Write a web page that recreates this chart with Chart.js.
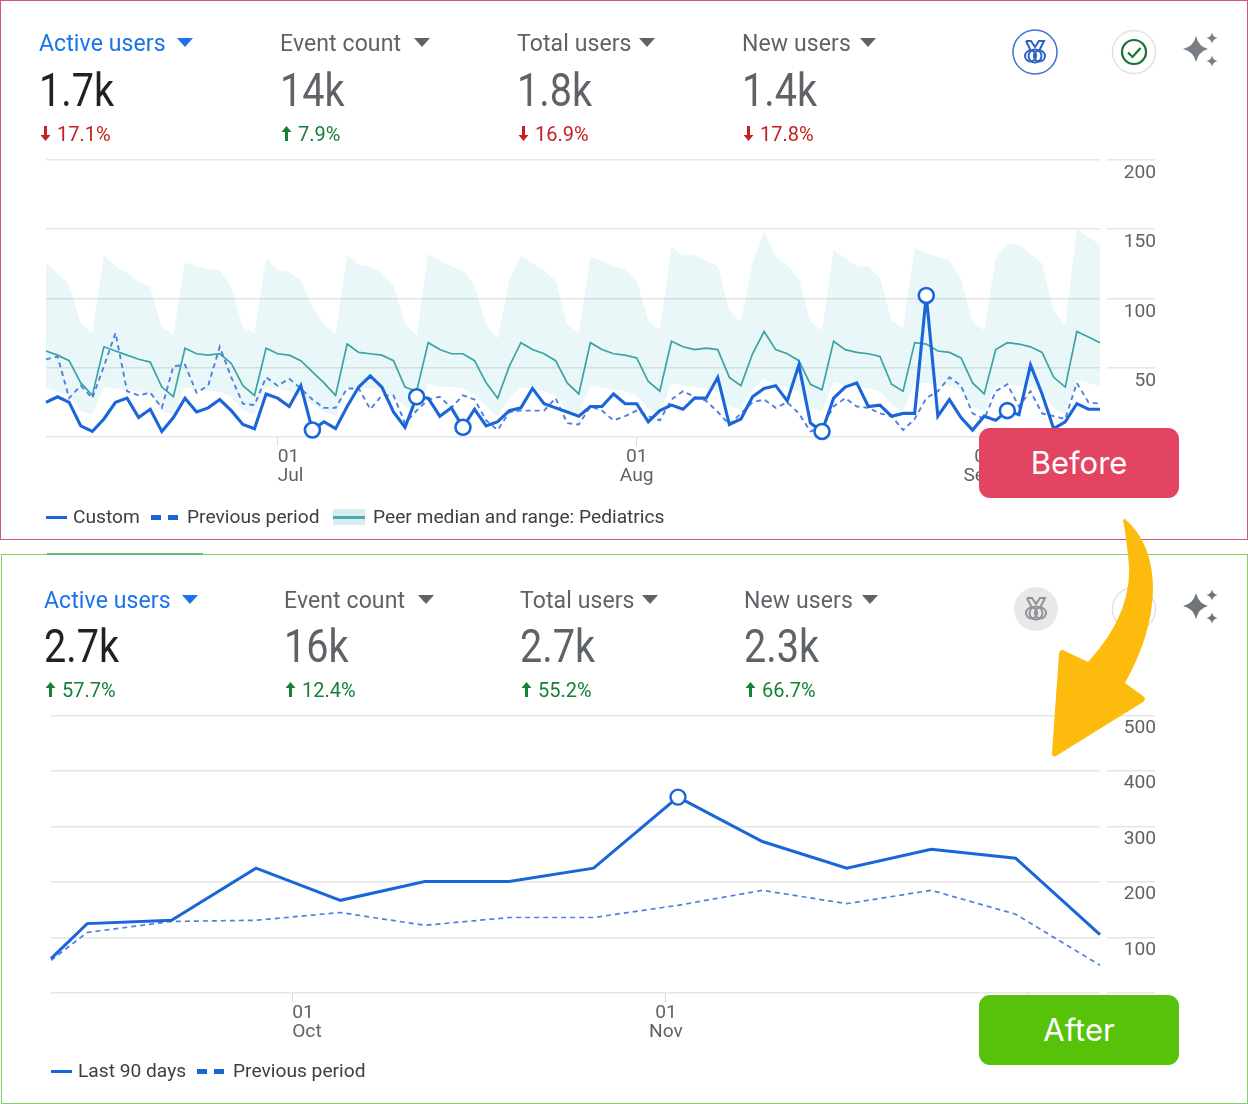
<!DOCTYPE html>
<html>
<head>
<meta charset="utf-8">
<title>Active users before and after</title>
<script src="https://cdn.jsdelivr.net/npm/chart.js@4"></script>
<style>
  html, body { margin: 0; padding: 0; background: #fff; }
  body { position: relative; width: 1248px; height: 1104px; overflow: hidden; font-family: Roboto, sans-serif; }
  .frame { position: absolute; box-sizing: border-box; }
  #frameBefore { left: 0; top: 0; width: 1248px; height: 540px; border: 1px solid #cf5a73; }
  #frameAfter { left: 1px; top: 554px; width: 1247px; height: 550px; border: 1px solid #7fd65c; }
  #tabStub { position: absolute; left: 47px; top: 553px; width: 156px; height: 2px; background: #5dbb7d; }
  canvas { position: absolute; left: 0; }
  #chartBefore { top: 0; }
  #chartAfter { top: 554px; }
  .kpi-label { position: absolute; font-size: 23px; line-height: 26px; color: #5f6368; transform: translateY(-12px); white-space: nowrap; letter-spacing: 0.1px; }
  .kpi-label.active { color: #1a73e8; }
  .tri { position: absolute; width: 0; height: 0; border-left: 8px solid transparent; border-right: 8px solid transparent; border-top: 9px solid #5f6368; }
  .tri.active { border-top-color: #1a73e8; }
  .kpi-value { position: absolute; font-size: 46px; line-height: 50px; color: #5f6368; transform: translateY(-25px) scaleX(0.86); transform-origin: left center; white-space: nowrap; }
  .kpi-value.active { color: #202124; }
  .kpi-delta { position: absolute; font-size: 20px; line-height: 22px; transform: translateY(-11px); white-space: nowrap; }
  .down { color: #c5221f; }
  .up { color: #188038; }
  .legend-text { position: absolute; font-size: 19.2px; line-height: 24px; color: #3c4043; transform: translateY(-12px); white-space: nowrap; }
  .swatch { position: absolute; }
  .badge { position: absolute; left: 979px; width: 200px; height: 70px; border-radius: 11px; color: #fff;
           font-family: Inter, sans-serif; font-size: 31px; line-height: 70px; text-align: center; }
  svg.overlay { position: absolute; left: 0; top: 0; pointer-events: none; }
</style>
</head>
<body>
<div class="frame" id="frameBefore"></div>
<div class="frame" id="frameAfter"></div>
<div id="tabStub"></div>

<canvas id="chartBefore" width="1248" height="540"></canvas>
<canvas id="chartAfter" width="1248" height="550"></canvas>

<div id="kpis"></div>
<div id="legends"></div>

<svg class="overlay" width="1248" height="1104" viewBox="0 0 1248 1104">
  <defs>
    <g id="medal" fill="none" stroke-width="2">
      <path d="M-9 -11 L-4 -11 L0 -5 L4 -11 L9 -11 L4 -1 M-9 -11 L-4 -1"/>
      <circle cx="0" cy="4" r="6.5"/>
      <circle cx="-4.5" cy="4" r="5.5"/>
      <circle cx="4.5" cy="4" r="5.5"/>
      <circle cx="0" cy="4" r="1.2" stroke-width="1.5"/>
    </g>
    <g id="sparkle">
      <path d="M0 -13 Q2.5 -2.5 12 0 Q2.5 2.5 0 13 Q-2.5 2.5 -13 0 Q-2.5 -2.5 0 -13 Z"/>
      <path d="M16 -16.5 Q17 -12 21.5 -11 Q17 -10 16 -5.5 Q15 -10 10.5 -11 Q15 -12 16 -16.5 Z"/>
      <path d="M16 6.5 Q17 11 21.5 12 Q17 13 16 17.5 Q15 13 10.5 12 Q15 11 16 6.5 Z"/>
    </g>
  </defs>

  <circle cx="1035" cy="52" r="22" fill="#fff" stroke="#3b73d6" stroke-width="1.5"/>
  <use href="#medal" x="1035" y="52" stroke="#2a62c9"/>
  <circle cx="1134" cy="52" r="21.5" fill="#fff" stroke="#e2e2e2" stroke-width="1.5"/>
  <circle cx="1134" cy="52" r="12" fill="none" stroke="#137333" stroke-width="2.2"/>
  <path d="M1128 52.5 L1132.5 57 L1140.5 48" fill="none" stroke="#137333" stroke-width="2.2"/>
  <use href="#sparkle" x="1196" y="49" fill="#7a7f86"/>

  <circle cx="1036" cy="609" r="22" fill="#e8e8e8"/>
  <use href="#medal" x="1036" y="609" stroke="#8f9397"/>
  <circle cx="1134" cy="609" r="21.5" fill="#fff" stroke="#e2e2e2" stroke-width="1.5"/>
  <use href="#sparkle" x="1196" y="606" fill="#6f7479"/>

  <path d="M1125 519 Q1153 543 1153 590 Q1152 635 1125 683 L1143 696 Q1147 699 1143 702 L1056 756 Q1052 758 1052 753 L1059 654 Q1060 648 1065 651 L1088 662 Q1136 610 1128 555 Q1126 538 1124 525 Q1122 518 1125 519 Z" fill="#fdbb0e"/>
</svg>

<div class="badge" style="top:428px;background:#e24462;">Before</div>
<div class="badge" style="top:995px;background:#56c20a;">After</div>

<script>
// Daily series for the upper panel (11 Jun to 10 Sep).
const customUsers = [25,29,25,8,4,13,25,28,14,20,4,14,28,18,21,27,19,9,6,31,28,22,37,5,11,6,22,36,44,36,18,7,29,28,15,21,7,20,8,11,19,21,35,24,21,18,15,22,22,31,24,24,11,19,23,20,28,28,43,9,13,29,35,37,26,52,10,4,28,36,39,22,23,15,17,17,102,15,27,14,5,15,12,19,16,52,31,6,11,24,20,20];
const previousUsers = [56,58,28,37,28,51,75,33,30,32,21,51,52,32,37,65,43,24,23,43,37,42,35,27,21,21,35,35,20,30,30,10,19,27,29,21,30,27,12,5,18,19,19,19,28,10,9,22,19,12,15,19,15,12,27,33,29,26,18,9,17,25,27,21,25,17,4,7,22,28,22,21,17,15,5,13,28,33,43,37,17,13,33,38,22,33,17,15,13,39,25,24];
const peerMedian = [62,59,55,39,30,65,62,59,56,54,36,29,64,60,59,60,53,37,30,64,60,59,55,47,39,30,67,61,60,59,55,36,33,68,63,60,60,55,39,28,51,68,63,60,55,39,31,68,63,60,59,57,40,33,69,65,63,64,63,43,37,60,76,63,60,55,38,34,69,63,61,60,58,38,33,68,67,62,61,57,39,31,63,68,67,65,61,43,36,76,72,68];
const peerHigh = [125,118,110,82,75,131,123,118,112,108,79,74,126,123,121,120,108,79,75,129,120,119,113,94,81,74,131,124,123,118,109,82,73,132,127,123,120,109,81,71,113,131,125,120,113,81,75,130,127,123,121,113,84,77,137,131,131,127,123,91,83,125,148,130,124,114,83,77,135,129,123,123,115,84,79,136,132,130,127,114,83,77,129,139,139,132,125,91,81,150,144,139];
const peerLow = [35,33,30,19,16,36,35,34,33,31,19,16,36,34,33,33,29,19,16,36,35,33,30,24,18,15,36,35,35,34,29,22,17,38,36,36,35,31,22,15,28,36,34,33,30,19,17,37,36,34,33,30,20,17,39,37,36,35,33,22,20,34,42,37,36,33,22,18,40,37,36,35,33,23,18,39,39,37,37,34,22,18,37,38,37,36,33,21,16,41,39,37];
const dayLabels = customUsers.map(() => '');
dayLabels[20] = ['01', 'Jul'];
dayLabels[51] = ['01', 'Aug'];
dayLabels[82] = ['01', 'Sep'];
const beforeTickDays = [20, 51, 82];
const anomalyDays = [23, 32, 36, 67, 76, 83];
const beforeYTicks = [0, 50, 100, 150, 200];

// Weekly series for the lower panel; days are counted from 1 Oct.
const weekDays = [-20, -17, -10, -3, 4, 11, 18, 25, 32, 39, 46, 53, 60, 67];
const last90Users = [62,125,131,225,167,201,201,225,353,273,225,259,243,105];
const previousWeekly = [59,109,129,131,145,122,136,136,158,185,161,185,142,50];
const afterTickDays = [0, 31, 61];
const afterTickLabels = [['01', 'Oct'], ['01', 'Nov'], ['01', 'Dec']];
const afterAnomalies = [8];
const afterYTicks = [0, 100, 200, 300, 400, 500];

// Metric cards above each chart.
const kpiBefore = [
  { name: 'Active users', value: '1.7k', delta: '17.1%', dir: 'down', x: 39, tri: 177, active: true },
  { name: 'Event count', value: '14k', delta: '7.9%', dir: 'up', x: 280, tri: 414 },
  { name: 'Total users', value: '1.8k', delta: '16.9%', dir: 'down', x: 517, tri: 639 },
  { name: 'New users', value: '1.4k', delta: '17.8%', dir: 'down', x: 742, tri: 860 }
];
const kpiAfter = [
  { name: 'Active users', value: '2.7k', delta: '57.7%', dir: 'up', x: 44, tri: 182, active: true },
  { name: 'Event count', value: '16k', delta: '12.4%', dir: 'up', x: 284, tri: 418 },
  { name: 'Total users', value: '2.7k', delta: '55.2%', dir: 'up', x: 520, tri: 642 },
  { name: 'New users', value: '2.3k', delta: '66.7%', dir: 'up', x: 744, tri: 862 }
];

function addCards(list, labelY, valueY, deltaY) {
  const host = document.getElementById('kpis');
  for (const k of list) {
    const active = k.active ? ' active' : '';
    const arrow = k.dir === 'up'
      ? `<path d="M5.5 0 L10.5 6 H7 V15 H4 V6 H0.5 Z"/>`
      : `<path d="M5.5 15 L10.5 9 H7 V0 H4 V9 H0.5 Z"/>`;
    const color = k.dir === 'up' ? '#188038' : '#c5221f';
    host.insertAdjacentHTML('beforeend', `
      <div class="kpi-label${active}" style="left:${k.x}px;top:${labelY}px">${k.name}</div>
      <div class="tri${active}" style="left:${k.tri}px;top:${labelY - 5}px"></div>
      <div class="kpi-value${active}" style="left:${k.x}px;top:${valueY}px">${k.value}</div>
      <svg style="position:absolute;left:${k.x + 1}px;top:${deltaY - 8}px" width="11" height="15">
        <g fill="${color}">${arrow}</g></svg>
      <div class="kpi-delta ${k.dir}" style="left:${k.x + 18}px;top:${deltaY}px">${k.delta}</div>`);
  }
}
addCards(kpiBefore, 43, 90, 134);
addCards(kpiAfter, 600, 646, 690);

// Hand-placed legend rows beneath each chart.
function addLegend(html) { document.getElementById('legends').insertAdjacentHTML('beforeend', html); }
function legendLine(x, y) { return `<div class="swatch" style="left:${x}px;top:${y - 1.5}px;width:21px;height:3px;background:#1a66d9;"></div>`; }
function legendDash(x, y) {
  return `<div class="swatch" style="left:${x}px;top:${y - 2.5}px;width:10px;height:5px;background:#1a66d9;"></div>
          <div class="swatch" style="left:${x + 17}px;top:${y - 2.5}px;width:10px;height:5px;background:#1a66d9;"></div>`;
}
function legendText(x, y, t) { return `<div class="legend-text" style="left:${x}px;top:${y}px">${t}</div>`; }
addLegend(legendLine(46, 517) + legendText(73, 517, 'Custom') + legendDash(151, 517) + legendText(187, 517, 'Previous period') +
  `<div class="swatch" style="left:333px;top:509px;width:32px;height:16px;background:#d6eef2;"></div>
   <div class="swatch" style="left:333px;top:515.5px;width:32px;height:3px;background:#4fa9a9;"></div>` +
  legendText(373, 517, 'Peer median and range: Pediatrics'));
addLegend(legendLine(51, 1071) + legendText(78, 1071, 'Last 90 days') + legendDash(197, 1071) + legendText(233, 1071, 'Previous period'));

const gridColor = '#e6e6e6';
const axisText = { family: 'Roboto', size: 19.2, lineHeight: 0.98 };

// Shared value-axis styling: gridlines continue past a small gap and labels sit under them.
function valueAxis(max, step, ticks, labelDrop) {
  return {
    position: 'right', min: 0, max: max,
    afterBuildTicks: s => { s.ticks = ticks.map(v => ({ value: v })); },
    afterFit: s => { s.width = 56; },
    border: { display: false },
    grid: { color: gridColor, lineWidth: 1.5, drawTicks: true, tickLength: 55, tickColor: gridColor, tickBorderDash: [0, 7, 48, 100], tickWidth: 1.5 },
    ticks: {
      stepSize: step, color: '#5f6368', font: axisText, padding: -31, crossAlign: 'far', labelOffset: labelDrop,
      callback: v => (v === 0 ? '' : String(v))
    }
  };
}
function timeAxisGrid() {
  return { drawOnChartArea: false, drawTicks: true, tickLength: 9, tickColor: '#d9d9d9', lineWidth: 1 };
}
function anomalyRadius(list, r) { return ctx => (list.includes(ctx.dataIndex) ? r : 0); }

new Chart(document.getElementById('chartBefore'), {
  type: 'line',
  data: {
    labels: dayLabels,
    datasets: [
      { label: 'Custom', data: customUsers, borderColor: '#1a66d9', borderWidth: 3.1, borderJoinStyle: 'miter', tension: 0, clip: false,
        pointRadius: anomalyRadius(anomalyDays, 7.5), pointBackgroundColor: '#fff', pointBorderColor: '#1a66d9', pointBorderWidth: 2.6, order: 1 },
      { label: 'Previous period', data: previousUsers, borderColor: '#4f7fe0', borderWidth: 1.9, borderDash: [5, 4], tension: 0, pointRadius: 0, order: 2 },
      { label: 'Peer median', data: peerMedian, borderColor: '#3aa3a3', borderWidth: 1.7, tension: 0, pointRadius: 0, order: 3 },
      { label: 'Peer high', data: peerHigh, borderWidth: 0, pointRadius: 0, tension: 0, fill: '+1', backgroundColor: 'rgba(23,162,184,0.09)', order: 4 },
      { label: 'Peer low', data: peerLow, borderWidth: 0, pointRadius: 0, tension: 0, order: 5 }
    ]
  },
  options: {
    responsive: false, animation: false,
    layout: { padding: { left: 46, top: 159.5, right: 92, bottom: 43 } },
    plugins: { legend: { display: false }, tooltip: { enabled: false } },
    scales: {
      x: {
        type: 'category', offset: false,
        afterBuildTicks: s => { s.ticks = beforeTickDays.map(v => ({ value: v })); },
        afterFit: s => { s.height = 60; },
        border: { display: false },
        grid: timeAxisGrid(),
        ticks: { autoSkip: false, maxRotation: 0, align: 'inner', color: '#5f6368', font: axisText, padding: 1.5 }
      },
      y: valueAxis(200, 50, beforeYTicks, 13.5)
    }
  }
});

new Chart(document.getElementById('chartAfter'), {
  type: 'line',
  data: {
    datasets: [
      { label: 'Last 90 days', data: weekDays.map((d, i) => ({ x: d, y: last90Users[i] })), borderColor: '#1a66d9', borderWidth: 3, tension: 0, clip: false,
        pointRadius: anomalyRadius(afterAnomalies, 7.5), pointBackgroundColor: '#fff', pointBorderColor: '#1a66d9', pointBorderWidth: 2.4, order: 1 },
      { label: 'Previous period', data: weekDays.map((d, i) => ({ x: d, y: previousWeekly[i] })), borderColor: '#4f7fe0', borderWidth: 1.7, borderDash: [5, 4], tension: 0, pointRadius: 0, order: 2 }
    ]
  },
  options: {
    responsive: false, animation: false,
    layout: { padding: { left: 51, top: 161.5, right: 92, bottom: 51 } },
    plugins: { legend: { display: false }, tooltip: { enabled: false } },
    scales: {
      x: {
        type: 'linear', min: -20, max: 67,
        afterBuildTicks: s => { s.ticks = afterTickDays.map(v => ({ value: v })); },
        afterFit: s => { s.height = 60; },
        border: { display: false },
        grid: timeAxisGrid(),
        ticks: { autoSkip: false, maxRotation: 0, align: 'inner', color: '#5f6368', font: axisText, padding: 1.5,
          callback: v => afterTickLabels[afterTickDays.indexOf(v)] }
      },
      y: valueAxis(500, 100, afterYTicks, 12.5)
    }
  }
});
</script>
</body>
</html>
